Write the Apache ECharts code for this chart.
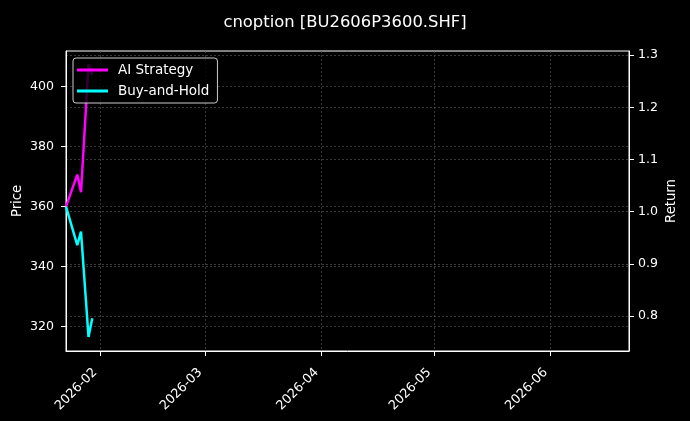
<!DOCTYPE html>
<html>
<head>
<meta charset="utf-8">
<script src="https://cdn.jsdelivr.net/npm/echarts@6/dist/echarts.min.js"></script>
<style>
  html, body { margin: 0; padding: 0; background: #000; }
  #chart { width: 690px; height: 421px; }
</style>
</head>
<body>
<div id="chart"></div>
<script>
// data
var dates = ['2026-01-23', '2026-01-26', '2026-01-27', '2026-01-29', '2026-01-30'];
var aiStrategy = [360.0, 370.7, 364.8, 407.4, 404.0];
var buyHold = [360.0, 347.2, 351.7, 316.6, 322.8];

var priceTicks = [320, 340, 360, 380, 400];
var returnTicks = [0.8, 0.9, 1.0, 1.1, 1.2, 1.3];
var monthTicks = ['2026-02-01', '2026-03-01', '2026-04-01', '2026-05-01', '2026-06-01'];

function ts(s) {
  var p = s.split('-');
  return Date.UTC(+p[0], +p[1] - 1, +p[2]);
}

var monthVals = monthTicks.map(ts);
var font = 'DejaVu Sans';
var gridLine = { show: true, lineStyle: { color: '#505050', width: 0.7, type: [2, 2] } };
var tick = { show: true, length: 5, inside: false, lineStyle: { color: '#fff', width: 1 } };

var chart = echarts.init(document.getElementById('chart'));

var option = {
  backgroundColor: '#000',
  animation: false,
  title: {
    text: 'cnoption [BU2606P3600.SHF]',
    left: 'center',
    top: 10,
    textStyle: { color: '#fff', fontSize: 16.4, fontWeight: 'normal', fontFamily: font }
  },
  legend: {
    left: 73,
    top: 58,
    orient: 'vertical',
    icon: 'rect',
    itemWidth: 31,
    itemHeight: 3,
    itemGap: 5,
    padding: [4, 8, 4, 4],
    backgroundColor: 'rgba(0,0,0,0.8)',
    borderColor: '#ccc',
    borderWidth: 1,
    borderRadius: 3,
    textStyle: { color: '#fff', fontSize: 13.5, fontFamily: font, lineHeight: 16, padding: [0, 0, 0, 5] },
    data: ['AI Strategy', 'Buy-and-Hold']
  },
  grid: {
    left: 66,
    right: 61,
    top: 51,
    bottom: 70,
    outerBoundsMode: 'none',
    show: true,
    borderColor: '#fff',
    borderWidth: 1,
    backgroundColor: 'transparent'
  },
  xAxis: {
    type: 'value',
    min: ts('2026-01-23'),
    max: ts('2026-06-22'),
    axisLine: { show: true, lineStyle: { color: '#fff' } },
    axisTick: Object.assign({ customValues: monthVals }, tick),
    splitLine: gridLine,
    axisLabel: {
      customValues: monthVals,
      rotate: 45,
      color: '#fff',
      fontSize: 12.8,
      fontFamily: font,
      margin: 24,
      verticalAlign: 'bottom',
      formatter: function (v) {
        var d = new Date(v);
        var m = d.getUTCMonth() + 1;
        return d.getUTCFullYear() + '-' + (m < 10 ? '0' + m : m);
      }
    }
  },
  yAxis: [
    {
      type: 'value',
      name: 'Price',
      nameLocation: 'middle',
      nameGap: 42,
      nameMoveOverlap: false,
      nameTextStyle: { color: '#fff', fontSize: 13.2, fontFamily: font },
      min: 311.9,
      max: 411.9,
      axisLine: { show: true, lineStyle: { color: '#fff' } },
      axisTick: Object.assign({ customValues: priceTicks }, tick),
      splitLine: gridLine,
      axisLabel: { customValues: priceTicks, color: '#fff', fontSize: 12.6, fontFamily: font, margin: 12 }
    },
    {
      type: 'value',
      name: 'Return',
      nameLocation: 'middle',
      nameGap: 36,
      nameMoveOverlap: false,
      nameTextStyle: { color: '#fff', fontSize: 13.2, fontFamily: font },
      min: 0.733,
      max: 1.3077,
      position: 'right',
      axisLine: { show: true, lineStyle: { color: '#fff' } },
      axisTick: Object.assign({ customValues: returnTicks }, tick),
      splitLine: gridLine,
      axisLabel: {
        customValues: returnTicks,
        color: '#fff',
        fontSize: 12.6,
        fontFamily: font,
        margin: 9,
        formatter: function (v) { return v.toFixed(1); }
      }
    }
  ],
  series: [
    {
      name: 'AI Strategy',
      type: 'line',
      yAxisIndex: 0,
      showSymbol: false,
      lineStyle: { color: '#ff00ff', width: 2.5 },
      itemStyle: { color: '#ff00ff' },
      data: dates.map(function (d, i) { return [ts(d), aiStrategy[i]]; })
    },
    {
      name: 'Buy-and-Hold',
      type: 'line',
      yAxisIndex: 0,
      showSymbol: false,
      lineStyle: { color: '#00ffff', width: 2.5 },
      itemStyle: { color: '#00ffff' },
      data: dates.map(function (d, i) { return [ts(d), buyHold[i]]; })
    }
  ]
};

chart.setOption(option);
</script>
</body>
</html>
